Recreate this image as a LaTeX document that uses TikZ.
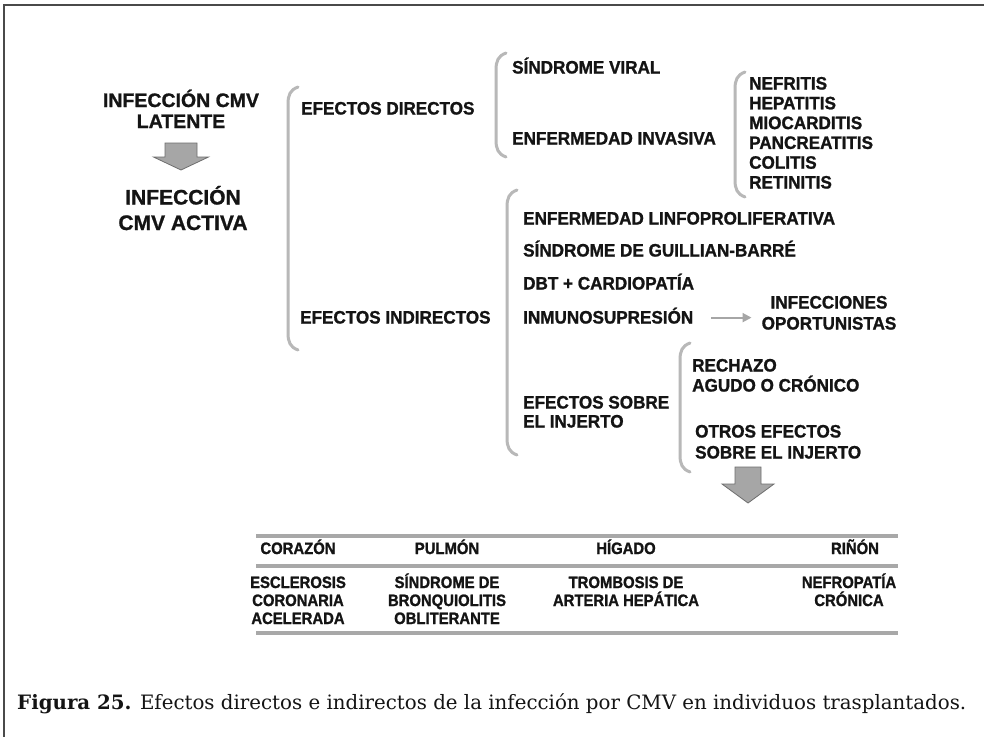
\documentclass[tikz,border=0pt]{standalone}
\usepackage{fontspec}
\setmainfont{Liberation Sans}
\newfontfamily\titlefont{Liberation Sans}[UprightFont={* Bold}, FakeBold=1]
\newfontfamily\itemfont{Liberation Sans}[FakeStretch=0.95, UprightFont={* Bold}, FakeBold=1.2]
\newfontfamily\tabfont{Liberation Sans}[FakeStretch=0.9, UprightFont={* Bold}, FakeBold=1.2]
\newfontfamily\capfont{DejaVu Serif}
\usetikzlibrary{arrows.meta}

\definecolor{ink}{HTML}{141414}
\definecolor{bracegray}{HTML}{B8B8B8}
\definecolor{arrowfill}{HTML}{A6A6A6}
\definecolor{arrowline}{HTML}{6E6E6E}
\definecolor{rulegray}{HTML}{A8A8A8}
\definecolor{framegray}{HTML}{4A4A4A}

% multi-line nodes are placed by the baseline of their last line
\tikzset{
  item/.style={anchor=base west, inner sep=0pt, text=ink, align=left,
    font=\itemfont\fontsize{18}{21}\selectfont},
  listitem/.style={item, font=\itemfont\fontsize{18}{19.8}\selectfont},
  cell/.style={anchor=base, inner sep=0pt, text=ink, align=center,
    font=\tabfont\fontsize{16.5}{18}\selectfont},
  bigtitle/.style={anchor=base, inner sep=0pt, text=ink, align=center},
  brace/.style={draw=bracegray, line width=3pt, line cap=round},
  tabrule/.style={draw=rulegray, line width=4pt},
  blockarrow/.style={fill=arrowfill, draw=arrowline, line width=0.8pt, line join=miter},
  thinarrow/.style={draw=arrowfill, line width=2pt, -{Triangle[length=9pt,width=9pt]}},
}

% curly-ended bracket: x, top y, bottom y
\newcommand\drawbracket[3]{%
  \draw[brace] (#1+10,#2) .. controls (#1+2,#2+3) and (#1,#2+8) .. (#1,#2+17)
    -- (#1,#3-17) .. controls (#1,#3-8) and (#1+2,#3-3) .. (#1+10,#3);}

% block arrow pointing down: centre x, shaft half width, head half width, top, head start, tip
\newcommand\blockdown[6]{%
  \draw[blockarrow] (#1-#2,#4) -- (#1+#2,#4) -- (#1+#2,#5) -- (#1+#3,#5)
    -- (#1,#6) -- (#1-#3,#5) -- (#1-#2,#5) -- cycle;}

\begin{document}
\begin{tikzpicture}[x=1pt, y=-1pt]
\useasboundingbox (0,0) rectangle (984,736);
\fill[white] (0,0) rectangle (984,736);

% open frame
\draw[framegray, line width=2pt] (4,737) -- (4,5) -- (985,5);

% left column
\node[bigtitle, font=\titlefont\fontsize{19.5}{21}\selectfont] (latente) at (181,128)
  {INFECCIÓN CMV\\LATENTE};
\blockdown{181}{16}{27.5}{143}{157}{170}
\node[bigtitle, font=\titlefont\fontsize{21}{25.5}\selectfont] (activa) at (183,230)
  {INFECCIÓN\\CMV ACTIVA};

% first level
\drawbracket{288}{87}{350}
\node[item] (directos) at (301,114.5) {EFECTOS DIRECTOS};
\node[item] (indirectos) at (300,323.5) {EFECTOS INDIRECTOS};

% direct effects
\drawbracket{496}{53}{157}
\node[item] (viral) at (512,73.5) {SÍNDROME VIRAL};
\node[item] (invasiva) at (512,144.5) {ENFERMEDAD INVASIVA};

\drawbracket{735}{72}{197}
\node[listitem] (organos) at (749,188.5)
  {NEFRITIS\\HEPATITIS\\MIOCARDITIS\\PANCREATITIS\\COLITIS\\RETINITIS};

% indirect effects
\drawbracket{507}{190}{455}
\node[item] (linfo) at (523,224.5) {ENFERMEDAD LINFOPROLIFERATIVA};
\node[item] (guillian) at (523,256.5) {SÍNDROME DE GUILLIAN-BARRÉ};
\node[item] (dbt) at (523,289.5) {DBT + CARDIOPATÍA};
\node[item] (inmuno) at (523,323.5) {INMUNOSUPRESIÓN};
\node[item, anchor=base, align=center] (oportunistas) at (829,329.5)
  {INFECCIONES\\OPORTUNISTAS};
\draw[thinarrow] ([xshift=18pt,yshift=-2pt]inmuno.east)
  -- ([xshift=-10pt,yshift=-2pt]inmuno.east -| oportunistas.west);

\node[item, font=\itemfont\fontsize{18}{19}\selectfont] (injerto) at (523,427.5)
  {EFECTOS SOBRE\\EL INJERTO};

\drawbracket{680}{343}{472}
\node[item, font=\itemfont\fontsize{18}{20}\selectfont] (rechazo) at (692,391.5)
  {RECHAZO\\AGUDO O CRÓNICO};
\node[item] (otros) at (695,458.5) {OTROS EFECTOS\\SOBRE EL INJERTO};

\blockdown{748}{13}{26}{467}{484}{503}

% organ table
\draw[tabrule] (256,536) -- (898,536);
\draw[tabrule] (256,566) -- (898,566);
\draw[tabrule] (256,633) -- (898,633);

\node[cell] (corazon) at (298,554) {CORAZÓN};
\node[cell] (pulmon)  at (447,554) {PULMÓN};
\node[cell] (higado)  at (626,554) {HÍGADO};
\node[cell] (rinon)   at (855,554) {RIÑÓN};

\node[cell] (esclerosis) at (298,624) {ESCLEROSIS\\CORONARIA\\ACELERADA};
\node[cell] (bronquio)   at (447,624) {SÍNDROME DE\\BRONQUIOLITIS\\OBLITERANTE};
\node[cell] (trombosis)  at (626,606) {TROMBOSIS DE\\ARTERIA HEPÁTICA};
\node[cell] (nefro)      at (849,606) {NEFROPATÍA\\CRÓNICA};

% caption
\node[anchor=base west, inner sep=0pt, text=ink, font=\capfont\fontsize{19.8}{22}\selectfont]
  (caption) at (17,709)
  {\textbf{Figura 25.} Efectos directos e indirectos de la infección por CMV en individuos trasplantados.};
\end{tikzpicture}
\end{document}
